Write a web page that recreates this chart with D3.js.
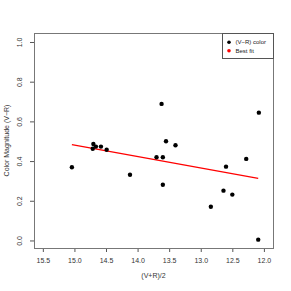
<!DOCTYPE html>
<html>
<head>
<meta charset="utf-8">
<script src="https://cdn.jsdelivr.net/npm/d3@7"></script>
<style>
    html, body { margin: 0; padding: 0; background: #fff; }
    svg { display: block; font-family: "Liberation Sans", Arial, sans-serif; }
</style>
</head>
<body>
<div id="chart"></div>
<script>
// (V+R)/2 og (V-R) farve for hver stjerne
const meanMag = [15.04, 14.70, 14.71, 14.66, 14.58, 14.49, 14.12, 13.70, 13.62, 13.55,
                 13.40, 13.60, 13.60, 12.08, 12.28, 12.60, 12.64, 12.50, 12.84, 12.09];
const colorVR = [0.369, 0.486, 0.462, 0.473, 0.473, 0.457, 0.331, 0.419, 0.688, 0.500,
                 0.480, 0.419, 0.281, 0.644, 0.411, 0.372, 0.251, 0.231, 0.170, 0.004];

// Best fit linje (endepunkter aflæst)
const fitX = [15.04, 12.09];
const fitY = [0.483, 0.313];

const xTicks = [15.5, 15.0, 14.5, 14.0, 13.5, 13.0, 12.5, 12.0];
const yTicks = [0.0, 0.2, 0.4, 0.6, 0.8, 1.0];
const legendLabels = ["(V\u2212R) color", "Best fit"];
const legendColors = ["#000", "#ff0000"];

const width = 291;
const height = 291;
const box = { left: 34, top: 33, right: 273, bottom: 248 };

const svg = d3.select("#chart")
    .append("svg")
    .attr("width", width)
    .attr("height", height);

// Omvendt x-akse (lyse stjerner til højre)
const x = d3.scaleLinear().domain([15.64, 11.856]).range([box.left, box.right]);
const y = d3.scaleLinear().domain([-0.038, 1.0453]).range([box.bottom, box.top]);

const axisColor = "#555";

// X-akse
const xAxis = svg.append("g")
    .attr("transform", `translate(0,${box.bottom})`)
    .call(d3.axisBottom(x).tickValues(xTicks).tickFormat(d3.format(".1f")).tickSize(4).tickPadding(6).tickSizeOuter(0));
xAxis.select(".domain").remove();
xAxis.selectAll("line").attr("stroke", axisColor);
xAxis.selectAll("text").attr("font-size", 7).attr("fill", "#333")
    .attr("font-family", "Liberation Sans, Arial, sans-serif");

// Y-akse, roterede tal som i R
const yAxis = svg.append("g")
    .attr("transform", `translate(${box.left},0)`)
    .call(d3.axisLeft(y).tickValues(yTicks).tickFormat(d3.format(".1f")).tickSize(4).tickSizeOuter(0));
yAxis.select(".domain").remove();
yAxis.selectAll("line").attr("stroke", axisColor);
yAxis.selectAll("text")
    .attr("font-size", 7).attr("fill", "#333")
    .attr("font-family", "Liberation Sans, Arial, sans-serif")
    .attr("x", null).attr("dy", null)
    .attr("text-anchor", "middle")
    .attr("transform", "translate(-12,0) rotate(-90)");

// Ramme
svg.append("rect")
    .attr("x", box.left + 0.5)
    .attr("y", box.top + 0.5)
    .attr("width", box.right - box.left)
    .attr("height", box.bottom - box.top)
    .attr("fill", "none")
    .attr("stroke", "#777")
    .attr("stroke-width", 1);

// Aksetitler
svg.append("text")
    .attr("x", (box.left + box.right) / 2)
    .attr("y", 278)
    .attr("text-anchor", "middle")
    .attr("font-size", 7)
    .attr("fill", "#333")
    .text("(V+R)/2");

svg.append("text")
    .attr("transform", `translate(9,${(box.top + box.bottom) / 2}) rotate(-90)`)
    .attr("text-anchor", "middle")
    .attr("font-size", 7)
    .attr("fill", "#333")
    .text("Color Magnitude (V\u2212R)");

// Best fit linje
svg.append("line")
    .attr("x1", x(fitX[0])).attr("y1", y(fitY[0]))
    .attr("x2", x(fitX[1])).attr("y2", y(fitY[1]))
    .attr("stroke", "#ff0000")
    .attr("stroke-width", 1.2);

// Punkter
svg.append("g")
    .selectAll("circle")
    .data(meanMag.map((m, i) => [m, colorVR[i]]))
    .enter().append("circle")
    .attr("cx", d => x(d[0]))
    .attr("cy", d => y(d[1]))
    .attr("r", 2.2)
    .attr("fill", "#000");

// Legende
const legend = svg.append("g");
legend.append("rect")
    .attr("x", 222.5).attr("y", 33.5)
    .attr("width", 51).attr("height", 25)
    .attr("fill", "#fff")
    .attr("stroke", "#555");

legendLabels.forEach((label, i) => {
    const ly = 42.3 + i * 8.4;
    legend.append("circle")
        .attr("cx", 229).attr("cy", ly).attr("r", 1.8)
        .attr("fill", legendColors[i]);
    legend.append("text")
        .attr("x", 235.5).attr("y", ly + 2.1)
        .attr("font-size", 6)
        .attr("fill", "#222")
        .text(label);
});
</script>
</body>
</html>
